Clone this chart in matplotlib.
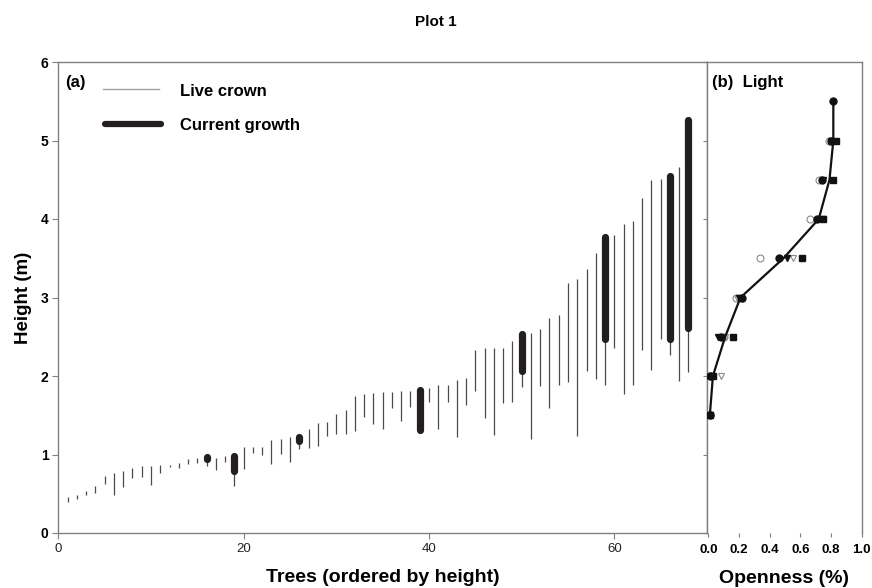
import matplotlib
matplotlib.use("Agg")
import matplotlib.pyplot as plt
import numpy as np

plt.rcParams['font.family'] = ['Liberation Sans', 'DejaVu Sans']

# ---- Panel (a): trees ordered by height ----
tree_top = [0.46, 0.49, 0.53, 0.60, 0.72, 0.76, 0.79, 0.83, 0.85, 0.85,
            0.87, 0.87, 0.89, 0.94, 0.96, 0.97, 0.96, 0.98, 0.98, 1.09,
            1.09, 1.09, 1.18, 1.20, 1.22, 1.22, 1.32, 1.40, 1.42, 1.52,
            1.57, 1.74, 1.77, 1.78, 1.79, 1.79, 1.81, 1.81, 1.82, 1.85,
            1.88, 1.89, 1.95, 1.97, 2.33, 2.36, 2.36, 2.36, 2.45, 2.54,
            2.55, 2.60, 2.74, 2.78, 3.19, 3.24, 3.36, 3.57, 3.77, 3.79,
            3.94, 3.97, 4.27, 4.50, 4.51, 4.55, 4.66, 5.26]
crown_base = [0.40, 0.43, 0.49, 0.51, 0.63, 0.49, 0.58, 0.70, 0.71, 0.61,
              0.76, 0.84, 0.83, 0.88, 0.89, 0.855, 0.80, 0.90, 0.60, 0.81,
              1.02, 0.99, 0.88, 1.01, 0.90, 1.07, 1.08, 1.11, 1.23, 1.26,
              1.26, 1.30, 1.48, 1.39, 1.32, 1.59, 1.43, 1.61, 1.31, 1.67,
              1.33, 1.67, 1.22, 1.63, 1.81, 1.47, 1.25, 1.66, 1.67, 1.86,
              1.20, 1.87, 1.59, 1.89, 1.92, 1.24, 2.06, 1.96, 1.88, 2.36,
              1.77, 1.88, 2.33, 2.08, 2.47, 2.27, 1.94, 2.05]
trees = list(range(1, len(tree_top) + 1))

growth_trees = [16, 19, 26, 39, 50, 59, 66, 68]
growth_bottom = [0.945, 0.79, 1.17, 1.31, 2.06, 2.47, 2.47, 2.61]
growth_top = [0.965, 0.98, 1.22, 1.82, 2.54, 3.77, 4.55, 5.26]

# ---- Panel (b): light openness by height ----
light_heights = [1.5, 2.0, 2.5, 3.0, 3.5, 4.0, 4.5, 5.0, 5.5]
light_mean = [0.01, 0.03, 0.11, 0.21, 0.49, 0.72, 0.79, 0.815, 0.815]
s_filled_circle = [0.01, 0.01, 0.08, 0.22, 0.46, 0.71, 0.74, 0.80, 0.815]
s_open_circle = [0.01, 0.02, 0.10, 0.18, 0.34, 0.66, 0.72, 0.79, np.nan]
s_filled_tri = [0.01, 0.02, 0.065, 0.20, 0.51, 0.745, 0.75, 0.80, np.nan]
s_open_tri = [0.01, 0.08, 0.11, 0.19, 0.55, 0.73, 0.75, 0.81, np.nan]
s_filled_square = [0.01, 0.03, 0.16, 0.21, 0.61, 0.75, 0.81, 0.83, np.nan]

W, H = 872, 588
fig = plt.figure(figsize=(W / 100, H / 100), dpi=100)

spine_col = '#808080'
axl = fig.add_axes([58.3 / W, 1 - 533 / H, (707 - 58.3) / W, (533 - 62) / H])
axr = fig.add_axes([707 / W, 1 - 533 / H, (861.7 - 707) / W, (533 - 62) / H])

# thin live-crown lines
axl.vlines(trees, crown_base, tree_top, colors='#4a4a4a', linewidth=0.9, zorder=2)
# thick current-growth segments
for t, b, tp in zip(growth_trees, growth_bottom, growth_top):
    axl.plot([t, t], [b, tp], color='#231f20', linewidth=5.2,
             solid_capstyle='round', zorder=3)

axl.set_xlim(0, 70)
axl.set_ylim(0, 6)
axl.set_xticks([0, 20, 40, 60])
axl.set_yticks([0, 1, 2, 3, 4, 5, 6])
for s in axl.spines.values():
    s.set_color(spine_col)
    s.set_linewidth(1.0)
axl.tick_params(axis='both', direction='out', length=4, width=0.8,
                color=spine_col, pad=3)
axl.tick_params(axis='x', labelsize=9.5, labelcolor='#222222')
axl.tick_params(axis='y', labelsize=10)
for lab in axl.get_yticklabels():
    lab.set_fontweight('bold')

axl.set_xlabel('Trees (ordered by height)', fontsize=14, fontweight='bold', labelpad=10.5)
axl.set_ylabel('Height (m)', fontsize=13.5, fontweight='bold', labelpad=6)

axl.text(0.011, 0.957, '(a)', transform=axl.transAxes, fontsize=12,
         fontweight='bold', va='center', ha='left')
# legend drawn in axes coords
axl.plot([0.069, 0.156], [0.942, 0.942], transform=axl.transAxes,
         color='#a0a0a0', linewidth=1.0)
axl.plot([0.072, 0.158], [0.869, 0.869], transform=axl.transAxes,
         color='#231f20', linewidth=4.5, solid_capstyle='round')
axl.text(0.188, 0.938, 'Live crown', transform=axl.transAxes, fontsize=12,
         fontweight='bold', va='center', ha='left')
axl.text(0.188, 0.866, 'Current growth', transform=axl.transAxes, fontsize=12,
         fontweight='bold', va='center', ha='left')

# ---- right panel ----
ms = 5
axr.plot(s_open_circle, light_heights, linestyle='none', marker='o', ms=ms,
         mfc='white', mec='#8a8a8a', mew=0.8, zorder=3)
axr.plot(s_open_tri, light_heights, linestyle='none', marker='v', ms=ms,
         mfc='white', mec='#8a8a8a', mew=0.8, zorder=3)
axr.plot(s_filled_square, light_heights, linestyle='none', marker='s', ms=ms - 0.5,
         mfc='#111111', mec='#111111', zorder=4)
axr.plot(s_filled_tri, light_heights, linestyle='none', marker='v', ms=ms,
         mfc='#111111', mec='#111111', zorder=4)
axr.plot(s_filled_circle, light_heights, linestyle='none', marker='o', ms=ms,
         mfc='#111111', mec='#111111', zorder=4)
axr.plot(light_mean, light_heights, color='#111111', linewidth=1.6, zorder=5)

axr.set_xlim(-0.0085, 1.0)
axr.set_ylim(0, 6)
axr.set_xticks([0.0, 0.2, 0.4, 0.6, 0.8, 1.0])
axr.set_xticklabels(['0.0', '0.2', '0.4', '0.6', '0.8', '1.0'])
axr.set_yticks([0, 1, 2, 3, 4, 5, 6])
axr.set_yticklabels([])
for s in axr.spines.values():
    s.set_color(spine_col)
    s.set_linewidth(1.0)
axr.spines['bottom'].set_visible(False)
axr.tick_params(axis='x', direction='out', length=3, width=0.8,
                color=spine_col, labelsize=9.5, pad=5)
axr.tick_params(axis='y', direction='out', length=3, width=0.8, color=spine_col)
for lab in axr.get_xticklabels():
    lab.set_fontweight('bold')
axr.set_xlabel('Openness (%)', fontsize=14, fontweight='bold', labelpad=10)
axr.text(0.035, 0.957, '(b)  Light', transform=axr.transAxes, fontsize=12,
         fontweight='bold', va='center', ha='left')

fig.text(436 / W, 1 - 22 / H, 'Plot 1', fontsize=11, fontweight='bold',
         ha='center', va='center')

fig.savefig('out.png', dpi=100)
